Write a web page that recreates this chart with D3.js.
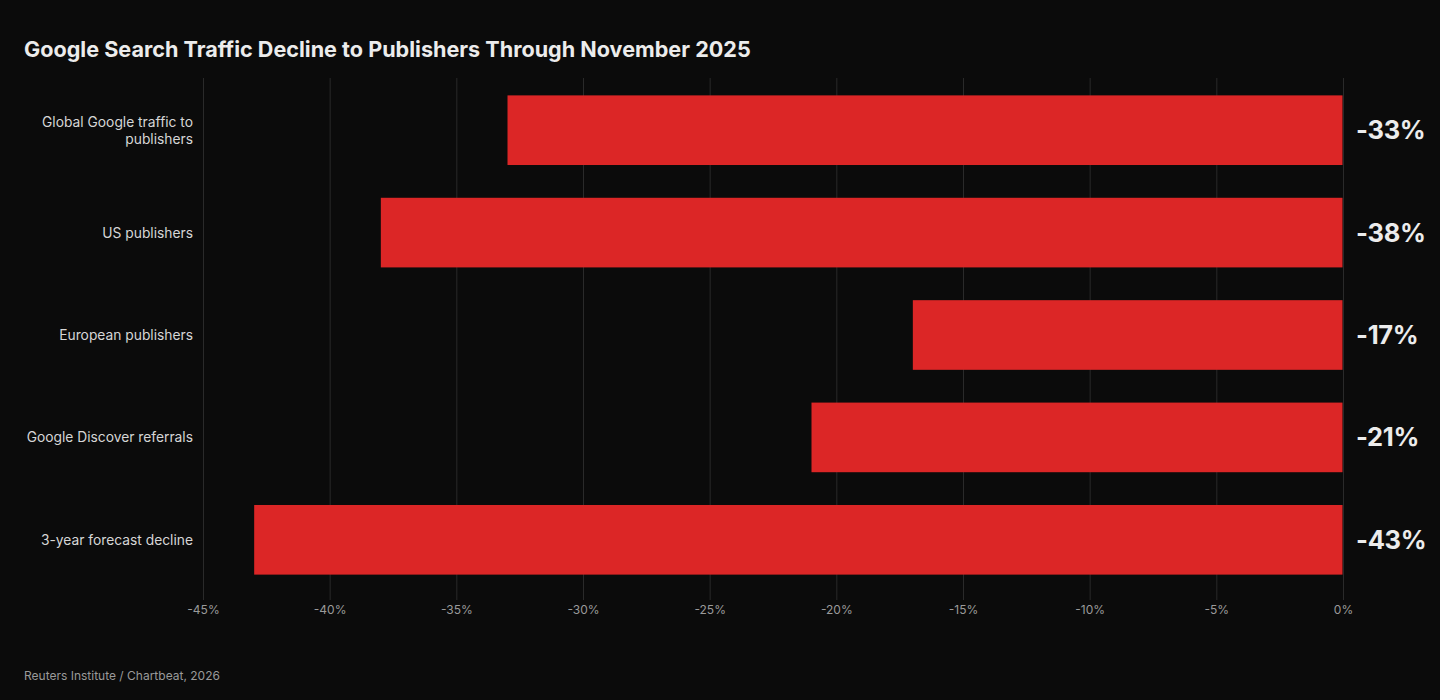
<!DOCTYPE html>
<html>
<head>
<meta charset="utf-8">
<script src="https://cdn.jsdelivr.net/npm/d3@7"></script>
<style>
  html, body { margin: 0; padding: 0; background: #0b0b0b; }
  svg text { font-family: Inter, "Noto Sans", sans-serif; }
</style>
</head>
<body>
<div class="chart"></div>
<script>
const categories = [
  ["Global Google traffic to", "publishers"],
  ["US publishers"],
  ["European publishers"],
  ["Google Discover referrals"],
  ["3-year forecast decline"]
];
const values = [-33, -38, -17, -21, -43];
const tickValues = [-45, -40, -35, -30, -25, -20, -15, -10, -5, 0];

const width = 1440, height = 700;

const svg = d3.select('.chart')
  .append('svg')
  .attr('width', width)
  .attr('height', height);

svg.append('rect')
  .attr('width', width)
  .attr('height', height)
  .attr('fill', '#0b0b0b');

svg.append('text')
  .attr('x', 24)
  .attr('y', 57)
  .attr('fill', '#ececec')
  .attr('font-size', 21.6)
  .attr('font-weight', 700)
  .text('Google Search Traffic Decline to Publishers Through November 2025');

const x = d3.scaleLinear()
  .domain([-45, 0])
  .range([203.5, 1343.5]);

const keys = categories.map(c => c.join(' '));
const y = d3.scaleBand()
  .domain(keys)
  .range([79, 591])
  .paddingInner(0.32)
  .paddingOuter(0.16);

// gridlines
svg.selectAll('.grid')
  .data(tickValues)
  .enter().append('line')
  .attr('class', 'grid')
  .attr('x1', d => x(d))
  .attr('x2', d => x(d))
  .attr('y1', 78)
  .attr('y2', 600)
  .attr('stroke', '#2a2a2a')
  .attr('stroke-width', 1);

// tick labels
svg.selectAll('.tick-label')
  .data(tickValues)
  .enter().append('text')
  .attr('class', 'tick-label')
  .attr('x', d => x(d))
  .attr('y', 614)
  .attr('text-anchor', 'middle')
  .attr('fill', '#9a9a9a')
  .attr('font-size', 12)
  .text(d => d + '%');

// bars
svg.selectAll('.bar')
  .data(values)
  .enter().append('rect')
  .attr('class', 'bar')
  .attr('x', d => x(d))
  .attr('y', (d, i) => y(keys[i]))
  .attr('width', d => x(0) - x(d) - 1)
  .attr('height', y.bandwidth())
  .attr('fill', '#dc2626');

// category labels
const cat = svg.selectAll('.cat')
  .data(categories)
  .enter().append('text')
  .attr('class', 'cat')
  .attr('text-anchor', 'end')
  .attr('fill', '#d6d6d6')
  .attr('font-size', 13.8);

cat.each(function (lines, i) {
  const cy = y(keys[i]) + y.bandwidth() / 2;
  const lh = 17;
  const start = cy - (lines.length - 1) * lh / 2 + 5;
  d3.select(this).selectAll('tspan')
    .data(lines)
    .enter().append('tspan')
    .attr('x', 193)
    .attr('y', (l, j) => start + j * lh)
    .text(l => l);
});

// value labels
svg.selectAll('.val')
  .data(values)
  .enter().append('text')
  .attr('class', 'val')
  .attr('x', 1356)
  .attr('y', (d, i) => y(keys[i]) + y.bandwidth() / 2 + 9)
  .attr('fill', '#ececec')
  .attr('font-size', 25.5)
  .attr('font-weight', 700)
  .attr('letter-spacing', -0.3)
  .text(d => d + '%');

svg.append('text')
  .attr('x', 24)
  .attr('y', 680)
  .attr('fill', '#9a9a9a')
  .attr('font-size', 12)
  .text('Reuters Institute / Chartbeat, 2026');
</script>
</body>
</html>
